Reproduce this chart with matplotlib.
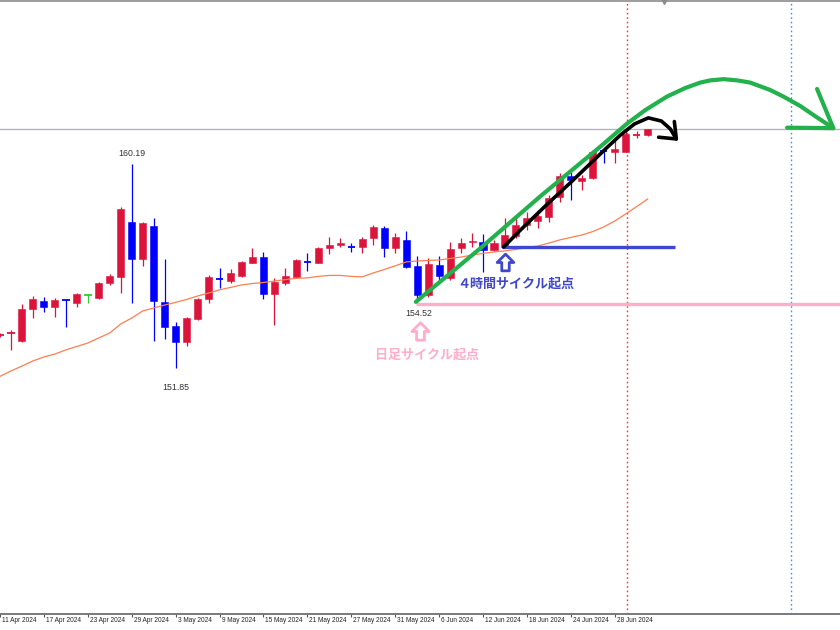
import matplotlib
matplotlib.use("Agg")
import matplotlib.pyplot as plt
from matplotlib.path import Path
from matplotlib.transforms import blended_transform_factory
import numpy as np
import pandas as pd

# USD/JPY daily candles, 11 Apr 2024 .. 3 Jul 2024
dates = pd.bdate_range("2024-04-11", "2024-07-03")
opens = [153.19, 153.28, 152.98, 154.26, 154.60, 154.34, 154.65, 154.53, 154.84, 154.72,
         155.32, 155.59, 157.81, 156.31, 157.66, 154.54, 153.59, 152.91, 153.85, 154.67,
         155.50, 155.43, 155.62, 156.14, 156.41, 154.87, 155.34, 155.59, 156.22, 156.14,
         156.75, 156.88, 156.83, 156.81, 157.16, 157.59, 156.75, 157.09, 156.03, 154.82,
         156.07, 155.55, 156.75, 156.99, 157.02, 156.68, 156.81, 157.25, 157.70, 157.86,
         158.03, 158.84, 159.70, 159.50, 159.61, 160.75, 160.69, 160.69, 161.35, 161.37]
highs = [153.29, 153.41, 154.46, 154.80, 154.75, 154.71, 154.67, 154.91, 154.88, 155.38,
         155.70, 158.45, 160.19, 157.83, 157.97, 156.30, 153.75, 153.96, 154.71, 155.66,
         155.96, 155.90, 156.24, 156.77, 156.58, 155.52, 155.96, 156.30, 156.57, 156.81,
         157.20, 157.16, 156.98, 157.20, 157.70, 157.66, 157.36, 157.47, 156.43, 156.35,
         156.43, 157.02, 157.18, 157.36, 157.32, 157.09, 157.99, 157.97, 158.23, 158.31,
         158.92, 159.82, 159.88, 159.74, 160.76, 160.76, 161.24, 161.58, 161.54, 161.62]
lows = [153.13, 152.60, 152.94, 153.89, 154.16, 153.96, 153.55, 154.34, 154.53, 154.68,
        155.25, 154.94, 154.50, 156.03, 152.98, 153.03, 151.85, 152.77, 153.82, 154.50,
        155.14, 155.32, 155.59, 156.14, 154.67, 153.62, 155.25, 155.52, 155.83, 156.14,
        156.52, 156.81, 156.61, 156.57, 156.88, 156.38, 156.54, 155.93, 154.52, 154.76,
        155.45, 155.45, 156.57, 156.81, 155.79, 156.65, 156.79, 157.16, 157.50, 157.58,
        157.82, 158.64, 158.72, 159.13, 159.56, 160.22, 160.22, 160.68, 161.25, 161.33]
closes = [153.23, 153.30, 154.26, 154.68, 154.36, 154.64, 154.63, 154.87, 154.84, 155.34,
          155.63, 158.35, 156.31, 157.78, 154.60, 153.55, 152.94, 153.89, 154.68, 155.56,
          155.46, 155.75, 156.20, 156.41, 154.87, 155.38, 155.62, 156.27, 156.18, 156.77,
          156.88, 156.95, 156.79, 157.12, 157.63, 156.75, 157.22, 156.00, 154.84, 156.10,
          155.62, 156.71, 156.98, 157.06, 156.68, 156.95, 157.29, 157.70, 157.98, 158.07,
          158.80, 159.70, 159.54, 159.63, 160.69, 160.72, 160.80, 161.41, 161.39, 161.61]
ma_values = [151.52, 151.74, 151.94, 152.15, 152.31, 152.43, 152.60, 152.74, 152.88, 153.09,
             153.29, 153.66, 153.90, 154.19, 154.31, 154.43, 154.54, 154.66, 154.80, 154.92,
             155.05, 155.15, 155.25, 155.31, 155.35, 155.41, 155.47, 155.52, 155.54, 155.60,
             155.64, 155.64, 155.60, 155.58, 155.74, 155.88, 156.03, 156.19, 156.23, 156.25,
             156.27, 156.33, 156.39, 156.47, 156.54, 156.60, 156.64, 156.70, 156.78, 156.84,
             156.96, 157.09, 157.19, 157.29, 157.43, 157.62, 157.86, 158.15, 158.45, 158.76]

bid_price = 161.61
marked_high, marked_high_idx = 160.19, 12
marked_low, marked_low_idx = 151.85, 16
cycle_low, cycle_low_idx = 154.52, 38

# hand-drawn annotations (candle index, price)
green_x = [37.88, 43.79, 49.25, 54.70, 57.13, 58.79, 60.76, 62.43, 63.79, 64.70,
           65.91, 67.15, 68.34, 70.15, 71.36, 72.88, 74.09, 75.91]
green_y = [154.56, 156.76, 158.88, 160.90, 161.84, 162.39, 162.94, 163.29, 163.51, 163.60,
           163.65, 163.60, 163.51, 163.21, 162.94, 162.56, 162.19, 161.65]
green_head_x = [74.43, 75.91, 71.70]
green_head_y = [163.25, 161.65, 161.67]
black_x = [45.88, 47.43, 49.88, 51.88, 53.79, 55.25, 56.52, 57.79, 59.06, 60.25, 61.06, 61.61]
black_y = [156.80, 157.50, 158.56, 159.39, 160.21, 160.84, 161.37, 161.82, 162.07, 161.94,
           161.62, 161.21]
black_head_x = [61.43, 61.61, 60.00]
black_head_y = [161.92, 161.21, 161.28]
h4_line = (45.76, 61.52, 156.80)
daily_line = (37.88, 80.0, 154.47)
h4_arrow = (46.02, 156.18)
daily_arrow = (38.25, 153.38)
vline_red = 57.1
vline_blue = 72.1
shift_marker = 60.45

C_UP = "#DC143C"
C_DN = "#0000FF"
C_EQ = "#32CD32"
C_GREEN = "#22B14C"
C_BLUE = "#3F48CC"
C_PINK = "#FFAEC9"

fig = plt.figure(figsize=(8.4, 6.3), dpi=100)
ax = fig.add_axes([0, 16 / 630, 1, 613 / 630])
ax.set_xlim(0.155, 76.52)
ax.set_ylim(141.82, 166.84)

o = np.array(opens); h = np.array(highs); l = np.array(lows); c = np.array(closes)
x = np.arange(len(o))
cols = np.where(c > o, C_UP, np.where(c < o, C_DN, C_EQ))

ax.vlines(x, l, h, colors=cols, lw=0.9, zorder=2)
body = np.abs(c - o)
big = body >= 0.05
ax.bar(x[big], body[big], bottom=np.minimum(o, c)[big], width=0.64,
       color=cols[big], edgecolor=cols[big], lw=0.4, zorder=3)
ax.hlines(((o + c) / 2)[~big], x[~big] - 0.34, x[~big] + 0.34,
          colors=cols[~big], lw=1.3, zorder=3)

ax.plot(x, ma_values, color="#FF7F50", lw=0.9, zorder=4)

ax.axhline(bid_price, color="#B4B4BC", lw=1.0, zorder=1)
ax.axvline(vline_red, color="#FF3030", lw=1.0, ls=(0, (1.2, 2.0)), zorder=1)
ax.axvline(vline_blue, color="#4A8FE8", lw=1.0, ls=(0, (1.2, 2.0)), zorder=1)

ax.hlines(daily_line[2], daily_line[0], daily_line[1], color=C_PINK, lw=2.4, zorder=5)
ax.hlines(h4_line[2], h4_line[0], h4_line[1], color=C_BLUE, lw=2.4, zorder=5)

ax.plot(green_x, green_y, color=C_GREEN, lw=3.0, solid_capstyle="round",
        solid_joinstyle="round", zorder=6)
ax.plot(green_head_x, green_head_y, color=C_GREEN, lw=3.0, solid_capstyle="round",
        solid_joinstyle="round", zorder=6)
ax.plot(black_x, black_y, color="black", lw=2.6, solid_capstyle="round",
        solid_joinstyle="round", zorder=7)
ax.plot(black_head_x, black_head_y, color="black", lw=2.6, solid_capstyle="round",
        solid_joinstyle="round", zorder=7)

# price labels
lab = dict(fontsize=6.3, color="#333333", family="Liberation Sans", ha="center")
ax.text(marked_high_idx, marked_high + 0.44, f"{marked_high:.2f}", va="center", **lab)
ax.text(marked_low_idx, marked_low - 0.79, f"{marked_low:.2f}", va="center", **lab)
ax.text(cycle_low_idx + 0.11, cycle_low - 0.42, f"{cycle_low:.2f}", va="center", **lab)

# outlined up arrows marking the cycle starts
up_arrow = Path([(0, 1), (1, 0.0), (0.45, 0.0), (0.45, -1), (-0.45, -1),
                 (-0.45, 0.0), (-1, 0.0), (0, 1)],
                [Path.MOVETO] + [Path.LINETO] * 6 + [Path.CLOSEPOLY])
ax.plot([h4_arrow[0]], [h4_arrow[1]], marker=up_arrow, ms=12, mfc="white",
        mec=C_BLUE, mew=2.0, zorder=8)
ax.plot([daily_arrow[0]], [daily_arrow[1]], marker=up_arrow, ms=12.5, mfc="white",
        mec=C_PINK, mew=2.0, zorder=8)

jp = ["Noto Sans CJK JP", "DejaVu Sans"]
ax.text(46.97, 155.29, "４時間サイクル起点", fontsize=9.4, color=C_BLUE,
        fontweight="bold", ha="center", va="center", family=jp, zorder=8)
ax.text(38.93, 152.43, "日足サイクル起点", fontsize=9.4, color=C_PINK,
        fontweight="bold", ha="center", va="center", family=jp, zorder=8)

# axis styling
for s in ("left", "right"):
    ax.spines[s].set_visible(False)
ax.spines["top"].set_color("#8C8C8C")
ax.spines["top"].set_linewidth(1.2)
ax.spines["bottom"].set_color("#7A7A7A")
ax.spines["bottom"].set_linewidth(1.4)
ax.set_yticks([])
tick_idx = x[::4]
ax.set_xticks(tick_idx)
ax.set_xticklabels([])
ax.tick_params(axis="x", direction="out", length=2.2, width=0.8, color="#555555")

tr = blended_transform_factory(ax.transData, ax.transAxes)
for i in tick_idx:
    d = dates[i]
    ax.text(i + 0.18, -0.005, f"{d.day} {d.strftime('%b %Y')}", transform=tr,
            fontsize=4.7, family="Liberation Sans", color="#222222",
            ha="left", va="top", clip_on=False)
ax.plot([shift_marker], [1.0], marker="v", ms=5, color="#8C8C8C", transform=tr,
        clip_on=False, zorder=9)

fig.savefig("out.png", dpi=100)
